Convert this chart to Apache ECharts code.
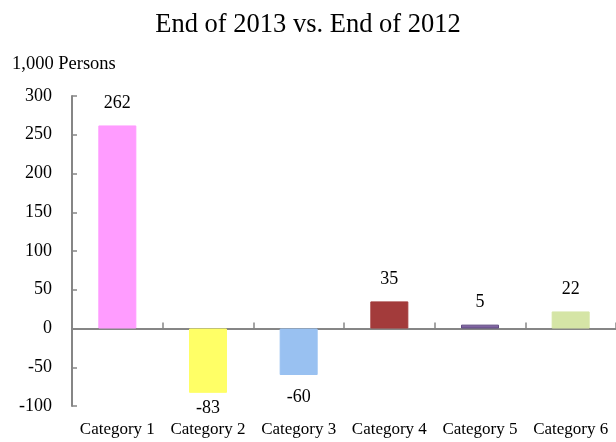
<!DOCTYPE html>
<html>
<head>
<meta charset="utf-8">
<script src="https://cdn.jsdelivr.net/npm/echarts@6/dist/echarts.min.js"></script>
<style>html,body{margin:0;padding:0;background:#fff}#c{width:616px;height:442px}</style>
</head>
<body>
<div id="c"></div>
<script>
var categories = ['Category 1', 'Category 2', 'Category 3', 'Category 4', 'Category 5', 'Category 6'];
var values = [262, -83, -60, 35, 5, 22];
var barColors = ['#ff9cff', '#ffff66', '#99c1f1', '#a33b3b', '#8064a2', '#d5e5a6'];
var barBorders = ['#ff9cff', '#ffff66', '#99c1f1', '#a33b3b', '#5f4a80', '#d5e5a6'];
var yTicks = { min: -100, max: 300, interval: 50 };

var FONT = '"Liberation Serif", "Times New Roman", serif';
var chart = echarts.init(document.getElementById('c'));
var data = values.map(function (v, i) {
  return {
    value: v,
    itemStyle: { color: barColors[i], borderColor: barBorders[i], borderWidth: 1 },
    label: { position: v < 0 ? 'bottom' : 'top', distance: (i === 1 ? 6 : 13) }
  };
});
chart.setOption({
  animation: false,
  title: {
    text: 'End of 2013 vs. End of 2012',
    left: 'center', top: 7,
    textStyle: { fontFamily: FONT, fontSize: 26.5, fontWeight: 'normal', color: '#000' }
  },
  grid: { left: 72, right: -1, top: 96, bottom: 36, containLabel: false },
  xAxis: {
    type: 'category',
    data: categories,
    position: 'bottom',
    axisLine: { onZero: true, lineStyle: { color: '#868686', width: 2 } },
    axisTick: { show: true, inside: true, length: 6, alignWithLabel: false, lineStyle: { color: '#868686', width: 1.5 } },
    axisLabel: { show: false }
  },
  yAxis: {
    type: 'value',
    min: yTicks.min, max: yTicks.max, interval: yTicks.interval,
    name: '1,000 Persons',
    nameLocation: 'end',
    nameGap: 0,
    nameTextStyle: { fontFamily: FONT, fontSize: 18.5, color: '#000', align: 'left', padding: [0, 0, 22, -60] },
    axisLine: { show: true, lineStyle: { color: '#868686', width: 2 } },
    axisTick: { show: true, inside: true, length: 5, lineStyle: { color: '#868686', width: 1.5 } },
    splitLine: { show: false },
    axisLabel: { fontFamily: FONT, fontSize: 18, color: '#000', margin: 20 }
  },
  series: [
    {
      type: 'bar',
      data: data,
      barWidth: 38,
      label: { show: true, fontFamily: FONT, fontSize: 18, color: '#000' }
    }
  ]
});
// category labels placed below the plot using the axis scale
var catLabels = categories.map(function (c, i) {
  var p = chart.convertToPixel({ gridIndex: 0 }, [i, yTicks.min]);
  return {
    type: 'text',
    x: p[0], y: 430,
    style: { text: c, fontFamily: FONT, fontSize: 17, fill: '#000', textAlign: 'center', textVerticalAlign: 'middle' }
  };
});
chart.setOption({ graphic: catLabels });
</script>
</body>
</html>
